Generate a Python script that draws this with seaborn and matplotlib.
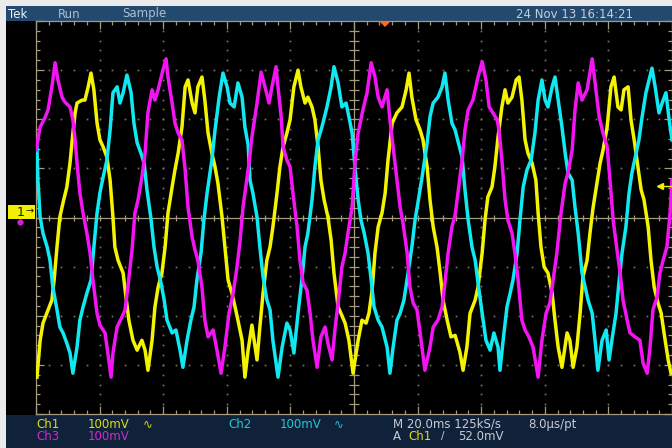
import numpy as np
import pandas as pd
import matplotlib
matplotlib.use("Agg")
import matplotlib.pyplot as plt
import seaborn as sns
from matplotlib.patches import Rectangle, Polygon
from matplotlib.lines import Line2D

# ---- data (time in ms, level in mV) ----
ch1 = [(0.3,-325),(1.3,-250),(2.2,-215),(3.8,-188),(5.0,-168),(5.7,-127),(6.6,-60),(7.5,1),(8.5,30),(9.7,62),(10.7,111),(11.6,172),(12.3,213),(12.9,233),(14.5,239),(15.4,239),(16.4,266),(17.3,294),(18.2,260),(19.2,192),(20.1,158),(21.1,144),(22.3,123),(23.3,76),(24.2,1),(24.8,-60),(25.8,-87),(27.4,-113),(28.3,-162),(29.2,-209),(30.5,-250),(31.8,-270),(33.3,-250),(34.3,-270),(35.2,-311),(36.5,-250),(37.4,-182),(38.4,-142),(39.6,-113),(40.6,-60),(41.5,9),(42.8,62),(43.7,97),(44.7,131),(45.9,184),(46.9,266),(47.8,280),(49.1,233),(50.0,213),(50.9,266),(52.2,286),(53.1,239),(54.1,172),(55.3,131),(56.3,103),(57.2,70),(58.5,1),(59.4,-60),(60.4,-127),(61.6,-154),(62.6,-182),(63.5,-209),(64.8,-250),(65.7,-325),(66.7,-270),(67.9,-219),(69.5,-290),(70.4,-223),(71.4,-154),(72.6,-87),(73.6,-60),(74.5,-19),(75.8,50),(76.7,103),(77.7,144),(78.9,172),(79.9,199),(81.1,266),(82.4,300),(83.3,266),(84.6,233),(85.5,245),(86.8,225),(87.7,199),(88.7,144),(89.6,76),(90.6,36),(91.8,1),(92.8,-46),(93.7,-113),(95.0,-182),(95.9,-195),(97.2,-215),(98.4,-250),(99.7,-317),(101.3,-250),(102.5,-209),(103.8,-215),(104.7,-195),(105.7,-148),(106.6,-72),(107.6,-19),(108.8,9),(109.8,50),(110.7,117),(112.0,192),(113.5,213),(115.1,225),(116.4,260),(117.3,294),(118.2,245),(119.5,199),(120.8,178),(121.7,158),(123.0,103),(123.9,36),(124.9,-19),(126.1,-60),(127.1,-113),(128.0,-168),(129.3,-209),(130.5,-243),(131.8,-240),(133.3,-274),(134.3,-311),(135.5,-264),(136.5,-195),(138.1,-168),(139.0,-142),(140.3,-72),(141.2,-5),(142.1,42),(143.4,62),(144.3,103),(145.3,164),(146.5,225),(147.5,260),(148.4,233),(149.7,245),(151.0,280),(151.9,286),(152.8,239),(153.8,158),(154.7,131),(156.0,111),(157.2,76),(157.9,9),(158.8,-60),(159.8,-101),(161.0,-113),(162.3,-154),(163.2,-209),(164.2,-264),(165.4,-305),(167.0,-235),(167.9,-250),(168.9,-305),(170.1,-264),(171.1,-195),(172.0,-121),(173.3,-87),(174.2,-32),(175.2,21),(176.4,70),(177.4,111),(178.3,137),(179.6,184),(180.8,266),(181.8,286),(183.0,225),(184.0,219),(184.9,260),(186.2,266),(187.1,199),(188.1,158),(189.3,103),(190.3,56),(191.2,36),(192.5,-19),(193.4,-87),(194.4,-142),(195.6,-174),(196.6,-195),(197.5,-235),(198.8,-290),(199.7,-317)]

ch2 = [(0.3,144),(0.6,76),(1.3,1),(2.2,-32),(3.5,-60),(4.4,-87),(5.3,-142),(6.6,-188),(7.5,-223),(8.5,-235),(9.7,-256),(10.7,-276),(11.6,-317),(12.9,-264),(13.8,-209),(14.8,-182),(16.0,-154),(17.3,-127),(18.2,-60),(19.2,9),(20.1,50),(21.1,82),(22.3,117),(23.3,178),(24.2,254),(25.5,266),(26.4,233),(27.4,254),(28.6,290),(29.9,254),(30.8,192),(31.8,152),(33.0,131),(34.0,111),(34.9,56),(36.2,-5),(37.1,-60),(38.1,-101),(39.3,-133),(40.3,-168),(41.2,-209),(42.8,-235),(44.0,-229),(45.3,-270),(46.2,-305),(47.5,-250),(48.7,-209),(49.7,-182),(50.6,-127),(51.9,-72),(52.8,-5),(53.8,50),(55.3,117),(56.3,178),(57.6,245),(58.8,294),(60.1,266),(61.0,233),(62.3,225),(63.5,274),(64.8,245),(65.7,184),(66.7,148),(67.3,76),(68.2,50),(69.5,1),(70.4,-60),(71.4,-121),(72.6,-168),(73.6,-188),(74.5,-250),(76.1,-325),(77.4,-264),(78.9,-215),(79.9,-229),(81.1,-276),(82.4,-195),(83.7,-121),(84.6,-60),(85.5,-32),(86.8,36),(87.7,103),(88.7,158),(89.9,184),(91.5,225),(92.8,266),(93.7,307),(95.0,274),(96.2,225),(97.5,233),(98.4,205),(99.4,172),(100.3,103),(101.3,36),(102.2,-5),(103.2,-32),(104.4,-72),(105.4,-127),(106.3,-182),(107.6,-209),(108.8,-223),(110.4,-264),(111.3,-317),(112.3,-264),(113.5,-209),(114.5,-195),(115.7,-168),(117.0,-113),(118.2,-60),(119.2,-5),(120.1,30),(121.4,82),(123.0,152),(123.9,205),(124.9,233),(126.4,245),(127.7,266),(128.6,294),(129.6,239),(130.8,192),(131.8,178),(132.7,155),(134.0,123),(134.9,56),(135.9,-5),(137.1,-60),(138.1,-87),(139.0,-133),(140.3,-195),(141.5,-250),(142.8,-270),(144.0,-235),(145.3,-264),(145.9,-311),(146.9,-250),(148.1,-182),(149.1,-154),(150.0,-127),(151.3,-72),(152.2,-5),(153.2,62),(154.4,97),(155.7,117),(156.9,172),(157.9,239),(159.1,280),(160.1,239),(161.0,225),(162.3,266),(163.2,286),(164.2,239),(165.4,184),(166.4,131),(167.3,91),(168.6,76),(169.5,21),(170.5,-32),(171.7,-113),(172.7,-142),(173.6,-168),(174.9,-195),(175.8,-250),(176.7,-311),(178.0,-250),(179.3,-229),(180.2,-290),(181.1,-250),(182.4,-195),(183.3,-133),(184.3,-72),(185.5,-19),(186.5,50),(187.4,91),(188.7,131),(189.6,158),(190.6,205),(191.8,254),(192.8,280),(193.7,304),(194.7,266),(195.9,213),(196.9,233),(198.1,254),(199.1,199),(200.0,158)]

ch3 = [(0.0,137),(1.3,184),(2.8,203),(3.8,219),(5.0,266),(6.0,315),(6.9,280),(8.2,245),(9.1,235),(10.7,225),(11.6,199),(12.3,158),(12.9,111),(13.8,50),(14.8,9),(16.0,-32),(17.0,-72),(17.9,-127),(19.2,-195),(20.1,-219),(21.7,-235),(22.6,-276),(23.6,-325),(24.2,-276),(25.5,-223),(27.0,-203),(28.0,-188),(28.9,-142),(30.2,-66),(31.1,9),(32.1,36),(33.3,82),(34.3,131),(35.2,213),(36.5,260),(37.4,239),(38.4,260),(39.9,300),(40.9,323),(41.5,286),(42.8,233),(43.7,192),(44.7,172),(45.9,158),(46.9,97),(47.8,21),(49.1,-40),(50.0,-66),(50.9,-87),(52.2,-142),(53.1,-209),(54.1,-243),(55.7,-229),(56.9,-270),(58.2,-317),(59.4,-264),(60.7,-195),(62.0,-154),(63.2,-101),(64.2,-46),(65.1,21),(66.4,82),(67.0,111),(67.9,164),(69.5,233),(70.8,296),(72.0,266),(73.3,233),(74.2,266),(75.5,307),(76.1,266),(77.1,205),(77.7,144),(78.9,117),(79.9,103),(80.8,50),(82.1,-19),(83.0,-87),(84.0,-133),(85.2,-148),(86.2,-195),(87.1,-250),(88.4,-305),(89.6,-243),(90.9,-223),(91.8,-256),(93.1,-290),(94.0,-229),(95.0,-174),(96.2,-101),(97.2,-72),(98.1,-32),(99.4,21),(100.3,111),(101.3,172),(102.8,219),(104.1,254),(105.4,315),(106.6,286),(107.6,245),(108.8,225),(110.4,260),(111.3,199),(112.3,144),(113.5,76),(114.5,21),(115.4,-11),(116.7,-72),(117.6,-142),(118.6,-174),(119.8,-188),(120.8,-235),(122.3,-311),(123.9,-264),(124.9,-223),(126.4,-209),(127.7,-182),(128.6,-133),(129.6,-72),(130.8,-19),(131.8,5),(132.7,50),(134.0,117),(134.9,178),(135.9,219),(137.4,239),(139.0,286),(140.3,317),(141.5,280),(142.5,225),(143.7,213),(145.0,199),(145.6,178),(146.5,117),(147.5,36),(148.4,-5),(149.7,-32),(150.6,-72),(151.6,-127),(152.8,-209),(153.8,-229),(155.0,-243),(156.3,-264),(157.9,-325),(159.1,-250),(160.4,-195),(161.6,-174),(162.6,-127),(163.8,-72),(165.1,9),(166.4,70),(167.3,91),(168.6,137),(169.5,219),(170.5,274),(171.7,239),(173.3,260),(174.9,323),(175.8,274),(177.1,205),(178.3,172),(179.6,144),(180.5,76),(181.5,-5),(182.7,-66),(183.7,-113),(184.6,-168),(185.9,-209),(186.8,-235),(188.4,-243),(189.9,-250),(190.9,-296),(192.2,-317),(193.1,-264),(194.0,-188),(195.3,-162),(196.2,-113),(197.2,-87),(198.4,-60),(199.4,9),(200.0,76)]

channel_names = ["Ch1", "Ch2", "Ch3"]
channel_colors = ["#f4f400", "#10e8f2", "#f214f2"]
time_per_div_ms = 20.0
volts_per_div_mv = 100.0
n_xdiv, n_ydiv = 10, 8

top_left_labels = ["Tek", "Run", "Sample"]
date_label = "24 Nov 13 16:14:21"
row1_labels = ["Ch1", "100mV", "\u223f", "Ch2", "100mV", "\u223f", "M 20.0ms 125kS/s", "8.0\u00b5s/pt"]
row2_labels = ["Ch3", "100mV", "A", "Ch1", "/", "52.0mV"]

# ---- figure ----
plt.rcParams['font.family'] = ['DejaVu Sans']
W, H = 672, 448
fig = plt.figure(figsize=(W / 100, H / 100), dpi=100)
fig.patch.set_facecolor('#ebebeb')

def fx(px):
    return px / W

def fy(py):
    return 1 - py / H

def frect(x0, y0, x1, y1, color, z=-5):
    fig.add_artist(Rectangle((fx(x0), fy(y1)), (x1 - x0) / W, (y1 - y0) / H,
                             transform=fig.transFigure, facecolor=color,
                             edgecolor='none', zorder=z))

frect(6, 6, 672, 21, '#24496e')
frect(6, 21, 672, 415, '#000000')
frect(6, 415, 672, 448, '#10213a')

grat = '#a39a80'
dotc = '#7c7764'

ax = fig.add_axes([fx(36), fy(414), 636 / W, 393 / H])
ax.set_facecolor('black')
xmax = n_xdiv * time_per_div_ms
ymax = n_ydiv / 2 * volts_per_div_mv

# dotted graticule
ydots = np.arange(-ymax, ymax + 1, volts_per_div_mv / 5)
xdots = np.arange(0, xmax + 0.1, time_per_div_ms / 5)
for k in range(1, n_xdiv):
    if k == n_xdiv // 2:
        continue
    ax.plot(np.full_like(ydots, k * time_per_div_ms), ydots, ls='none',
            marker='s', ms=1.2, mew=0, color=dotc, zorder=1)
for k in range(-n_ydiv // 2 + 1, n_ydiv // 2):
    if k == 0:
        continue
    ax.plot(xdots, np.full_like(xdots, k * volts_per_div_mv), ls='none',
            marker='s', ms=1.2, mew=0, color=dotc, zorder=1)

# centre cross with ticks
ax.axhline(0, color=grat, lw=0.9, zorder=1)
ax.axvline(xmax / 2, color=grat, lw=0.9, zorder=1)
ax.plot(xdots[1:-1], np.zeros(len(xdots) - 2), ls='none', marker='|', ms=5,
        mew=0.9, color=grat, zorder=1)
ax.plot(np.full(len(ydots) - 2, xmax / 2), ydots[1:-1], ls='none', marker='_',
        ms=7.5, mew=0.9, color=grat, zorder=1)

# traces
frames = []
for name, pts in zip(channel_names, [ch1, ch2, ch3]):
    d = pd.DataFrame(pts, columns=['t', 'mv'])
    d['ch'] = name
    frames.append(d)
df = pd.concat(frames, ignore_index=True)
sns.lineplot(data=df, x='t', y='mv', hue='ch', hue_order=channel_names,
             palette=dict(zip(channel_names, channel_colors)),
             estimator=None, sort=False, legend=False, lw=2.5, ax=ax,
             zorder=3)

ax.set_xlim(0, xmax)
ax.set_ylim(-ymax, ymax)
ax.set_xlabel('')
ax.set_ylabel('')
ax.grid(False)
ax.set_xticks(np.arange(0, xmax + 1, time_per_div_ms))
ax.set_xticks(xdots, minor=True)
ax.set_yticks(np.arange(-ymax, ymax + 1, volts_per_div_mv))
ax.set_yticks(ydots, minor=True)
ax.tick_params(which='both', direction='in', top=True, bottom=True, left=True,
               right=True, labelbottom=False, labelleft=False, color=grat,
               width=0.9)
ax.tick_params(which='major', length=5.5)
ax.tick_params(which='minor', length=3.2)
for s in ax.spines.values():
    s.set_color(grat)
    s.set_linewidth(0.9)

# top bar text
fs = 8.5
fig.text(fx(8), fy(14), top_left_labels[0], color='#f0f4f8', fontsize=fs, va='center')
fig.text(fx(58), fy(14), top_left_labels[1], color='#aebfd0', fontsize=fs, va='center')
fig.text(fx(122), fy(14), top_left_labels[2], color='#aebfd0', fontsize=fs, va='center')
fig.text(fx(516), fy(14), date_label, color='#c4ced8', fontsize=fs, va='center')

# trigger position marker
fig.add_artist(Polygon([(fx(379), fy(21)), (fx(391), fy(21)), (fx(385), fy(27))],
                       closed=True, transform=fig.transFigure,
                       facecolor='#ff6a1e', edgecolor='none', zorder=6))

# ground marker ch1 and ch3
frect(8, 205, 35, 219, '#f0f000', z=6)
fig.text(fx(21), fy(212), "1", color='#202000', fontsize=9, va='center', ha='center', zorder=7)
fig.text(fx(30), fy(211), "\u2192", color='#202000', fontsize=7, va='center', ha='center', zorder=7)
fig.add_artist(Line2D([fx(20)], [fy(222)], marker='o', ms=3.5, color='#d020d0',
                      transform=fig.transFigure, zorder=6))

# trigger level arrow at right
fig.add_artist(Line2D([fx(659), fx(672)], [fy(186), fy(186)], color='#f0f000', lw=1.0,
                      transform=fig.transFigure, zorder=6))
fig.add_artist(Line2D([fx(660)], [fy(186)], marker='<', ms=4, color='#f0f000',
                      transform=fig.transFigure, zorder=6))

# bottom bar text
yel, cyn, mag, gry = '#dede10', '#22c8d4', '#d428d4', '#c8ccd4'
r1 = fy(424)
r2 = fy(436)
fig.text(fx(36), r1, row1_labels[0], color=yel, fontsize=fs, va='center')
fig.text(fx(88), r1, row1_labels[1], color=yel, fontsize=fs, va='center')
fig.text(fx(143), r1, row1_labels[2], color=yel, fontsize=fs, va='center')
fig.text(fx(228), r1, row1_labels[3], color=cyn, fontsize=fs, va='center')
fig.text(fx(280), r1, row1_labels[4], color=cyn, fontsize=fs, va='center')
fig.text(fx(334), r1, row1_labels[5], color=cyn, fontsize=fs, va='center')
fig.text(fx(393), r1, row1_labels[6], color=gry, fontsize=fs, va='center')
fig.text(fx(528), r1, row1_labels[7], color=gry, fontsize=fs, va='center')
fig.text(fx(36), r2, row2_labels[0], color=mag, fontsize=fs, va='center')
fig.text(fx(88), r2, row2_labels[1], color=mag, fontsize=fs, va='center')
fig.text(fx(393), r2, row2_labels[2], color=gry, fontsize=fs, va='center')
fig.text(fx(408), r2, row2_labels[3], color=yel, fontsize=fs, va='center')
fig.text(fx(441), r2, row2_labels[4], color=gry, fontsize=fs - 1, va='center')
fig.text(fx(458), r2, row2_labels[5], color=gry, fontsize=fs, va='center')

fig.savefig('out.png', dpi=100, facecolor=fig.get_facecolor())
